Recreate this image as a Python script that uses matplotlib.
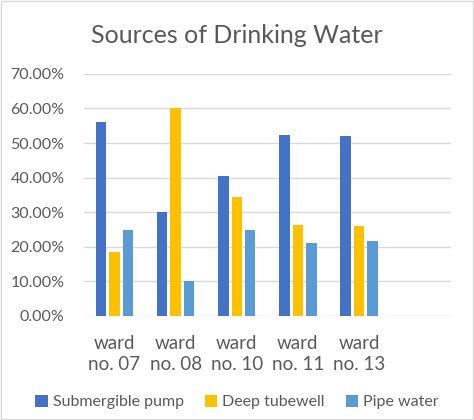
import numpy as np
import matplotlib.pyplot as plt
from matplotlib.ticker import PercentFormatter

categories = ['ward\nno. 07', 'ward\nno. 08', 'ward\nno. 10', 'ward\nno. 11', 'ward\nno. 13', '']
series_names = ['Submergible pump', 'Deep tubewell', 'Pipe water']
submergible_pump = [0.562, 0.30, 0.405, 0.524, 0.52, np.nan]
deep_tubewell = [0.185, 0.60, 0.344, 0.263, 0.26, np.nan]
pipe_water = [0.249, 0.10, 0.249, 0.21, 0.217, np.nan]
colors = ['#4472C4', '#FFC000', '#5B9BD5']

plt.rcParams['font.family'] = ['Lato', 'DejaVu Sans']
text_color = '#595959'

fig = plt.figure(figsize=(4.74, 4.2), dpi=100)
ax = fig.add_axes([0.177, 0.248, 0.774, 0.576])

x = np.arange(len(categories))
width = 0.17
step = 0.22
for i, (vals, name) in enumerate(zip([submergible_pump, deep_tubewell, pipe_water], series_names)):
    ax.bar(x + (i - 1) * step, vals, width, color=colors[i], label=name, zorder=3)

ax.set_xlim(-0.5, len(categories) - 0.5)
ax.set_ylim(0, 0.7)
ax.set_yticks(np.arange(0, 0.71, 0.1))
ax.yaxis.set_major_formatter(PercentFormatter(1.0, decimals=2))
ax.set_xticks(x)
ax.set_xticklabels(categories, fontsize=13.5, color=text_color, linespacing=1.3)
ax.tick_params(axis='y', labelsize=11.5, labelcolor=text_color, length=0, pad=14)
ax.tick_params(axis='x', length=0, pad=14)
ax.grid(axis='y', color='#D9D9D9', linewidth=1, zorder=0)
for s in ax.spines.values():
    s.set_visible(False)

fig.text(0.5, 0.916, 'Sources of Drinking Water', ha='center', va='center',
         fontsize=18, color=text_color)

fig.legend(loc='center', bbox_to_anchor=(0.5, 0.043), ncol=3, frameon=False,
           fontsize=11.5, labelcolor=text_color, handlelength=0.8, handleheight=0.8,
           handletextpad=0.3, columnspacing=1.3)

fig.patches.append(plt.Rectangle((0.002, 0.002), 0.996, 0.996, transform=fig.transFigure,
                                 fill=False, edgecolor='#D9D9D9', linewidth=1))

fig.savefig('out.png', dpi=100)
